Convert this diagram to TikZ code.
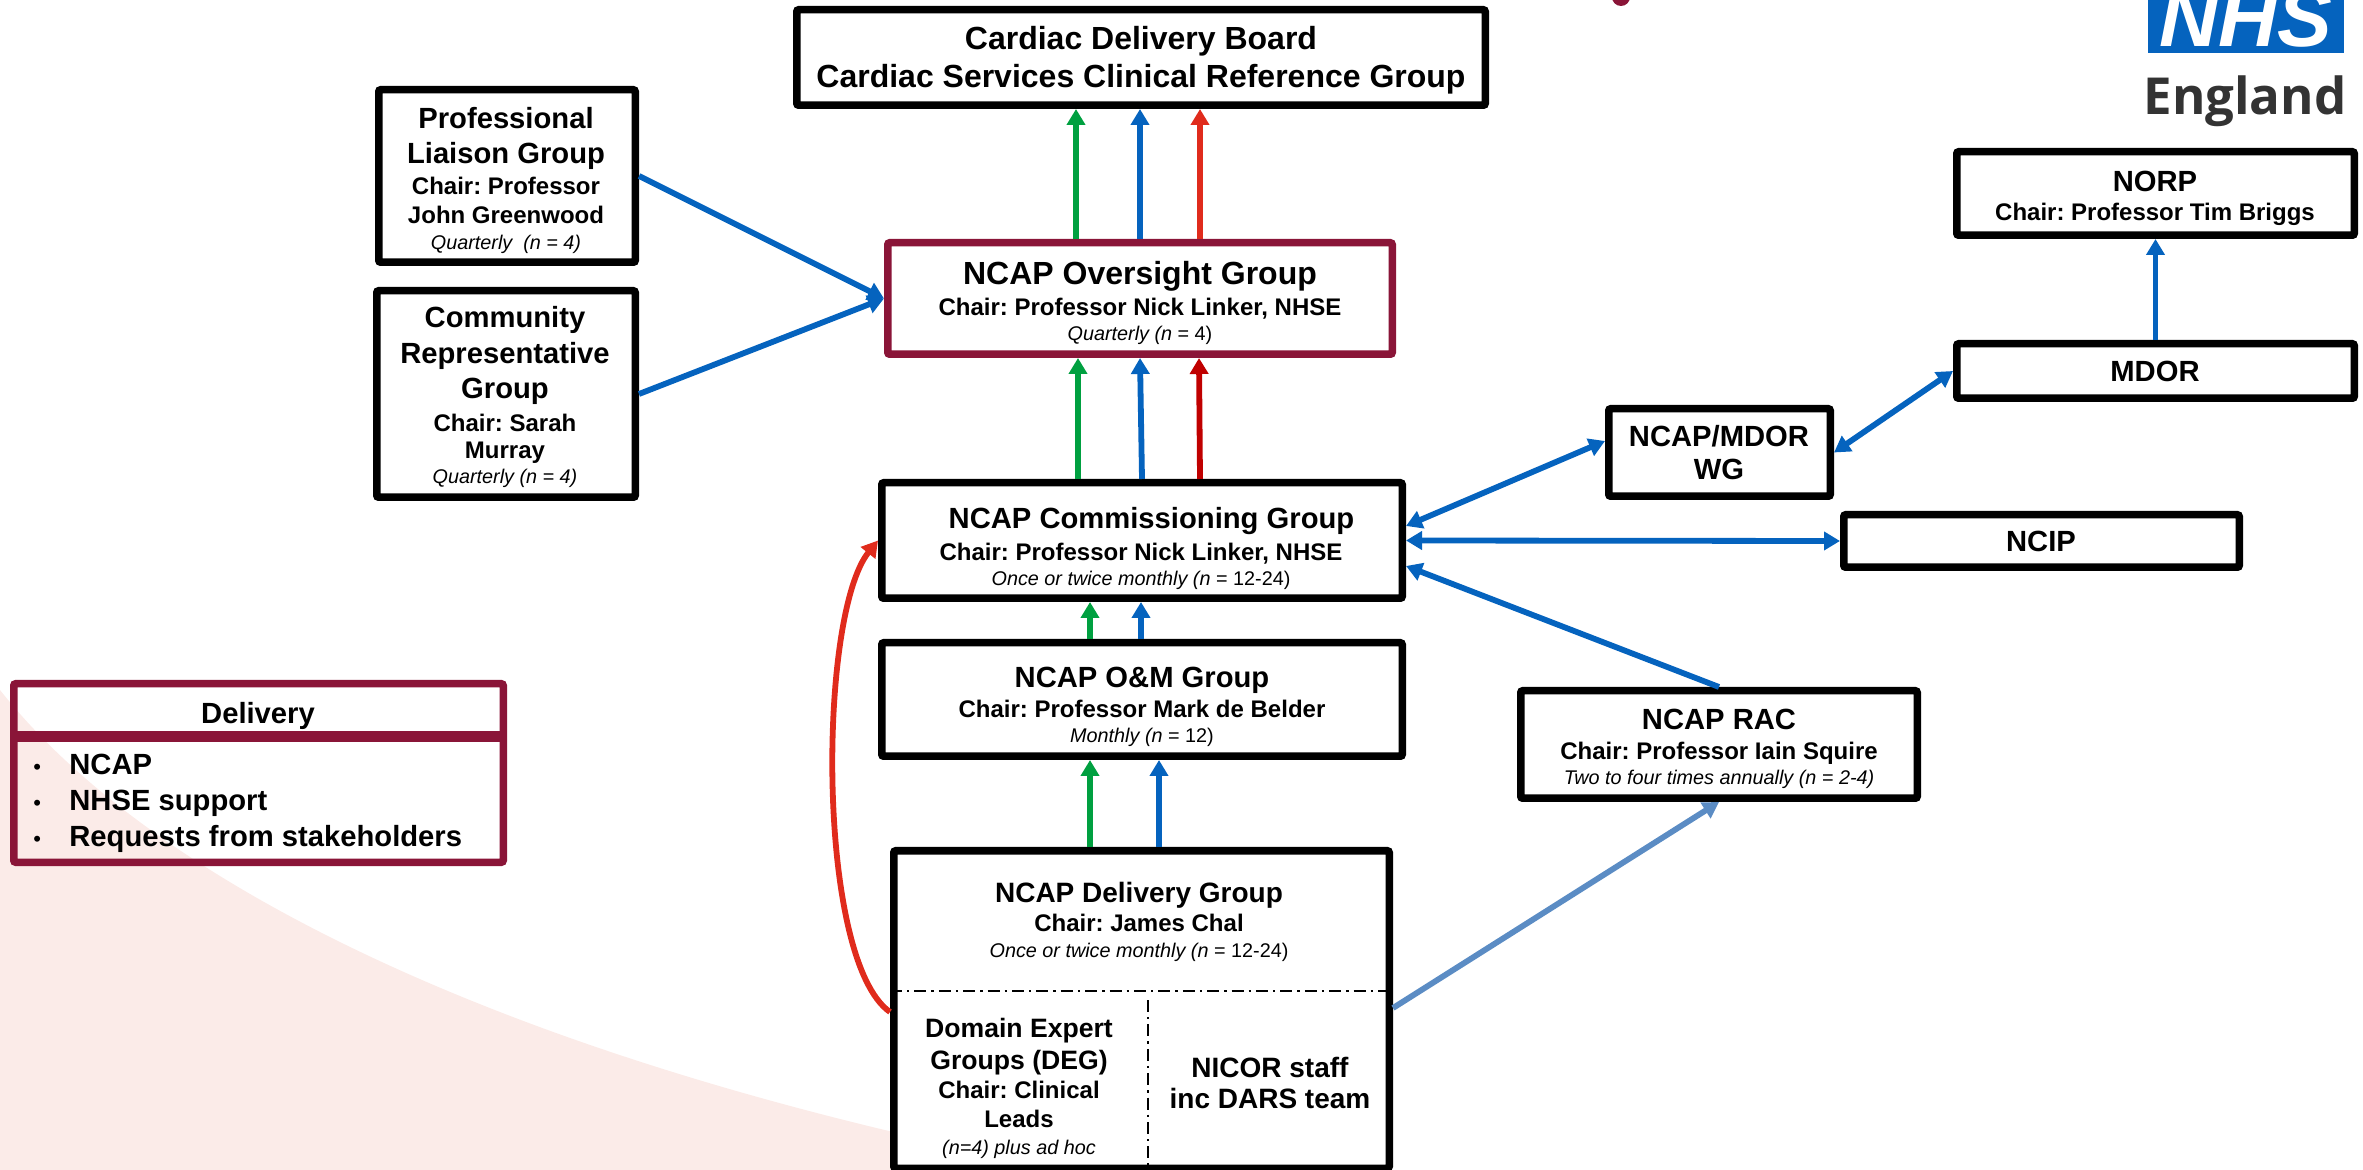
\documentclass[tikz,border=0pt]{standalone}
\usepackage{fontspec}
\setmainfont{Liberation Sans}
\newfontfamily\logofont{Open Sans}
\usetikzlibrary{arrows.meta,calc}
\frenchspacing
\definecolor{nhsblue}{HTML}{0563BE}
\definecolor{lineblue}{HTML}{5B8CC4}
\definecolor{nhsgreen}{HTML}{00A040}
\definecolor{nhsred}{HTML}{E02B1C}
\definecolor{darkred}{HTML}{C00000}
\definecolor{maroon}{HTML}{8A1538}
\definecolor{blush}{HTML}{FBEBE8}
\newcommand\tA[1]{{\fontsize{14.6}{16}\selectfont\bfseries #1}}
\newcommand\tD[1]{{\fontsize{13.3}{15}\selectfont\bfseries #1}}
\newcommand\tE[1]{{\fontsize{14}{16}\selectfont\bfseries #1}}
\newcommand\tH[1]{{\fontsize{16}{18}\selectfont\bfseries #1}}
\newcommand\tB[1]{{\fontsize{12}{14}\selectfont\bfseries #1}}
\newcommand\tC[1]{{\fontsize{9.9}{12}\selectfont #1}}
\newcommand\legbul{\makebox[18pt][l]{\fontsize{11}{14}\selectfont•}}
\newcommand\bx[6]{%
  \pgfmathsetmacro\cxx{(#2+#4)/2}\pgfmathsetmacro\cyy{(#3+#5)/2}%
  \pgfmathsetmacro\ww{(#4-#2-7.5)*0.5}\pgfmathsetmacro\hh{(#5-#3-7.5)*0.5}%
  \node[#6,minimum width=\ww pt,minimum height=\hh pt] (#1) at (\cxx,\cyy) {};}
\tikzset{
  x=0.5pt,y=-0.5pt,
  blackbox/.style={draw=black,line width=3.75pt,inner sep=0pt,rounded corners=1pt},
  whitebox/.style={blackbox,fill=white},
  oversightbox/.style={whitebox,draw=maroon},
  legendbox/.style={blackbox,draw=maroon},
  txt/.style={align=center,inner sep=0pt,font=\fontsize{12}{14}\selectfont},
  arr/.style={line width=2.9pt,-{Triangle[width=9pt,length=8pt]}},
  biarr/.style={line width=2.9pt,{Triangle[width=9pt,length=8pt]}-{Triangle[width=9pt,length=8pt]}},
  divider/.style={line width=1.3pt,dash pattern=on 6pt off 2.5pt on 1.2pt off 2.5pt},
}
\begin{document}
\begin{tikzpicture}
\useasboundingbox (0,0) rectangle (2363,1170);
\clip (0,0) rectangle (2363,1170);
% background sweep
\fill[blush] (0,690) .. controls (150,880) and (500,1060) .. (1070,1170) -- (0,1170) -- cycle;
\fill[maroon] (1621,-3) circle (9);
% logo
\fill[nhsblue] (2148,-20) rectangle (2344,53);
\node[anchor=base,inner sep=0pt,text=white,font=\fontsize{41}{41}\selectfont\bfseries\itshape] (nhs) at (2246,47) {NHS};
\node[anchor=base,inner sep=0pt,text=black!80,font=\logofont\fontsize{25.5}{26}\selectfont\bfseries] (eng) at (2245,115) {England};
% boxes
\bx{cdb}{793}{6}{1489}{109}{whitebox}
\bx{plg}{375}{86}{639}{266}{whitebox}
\bx{crg}{373}{287}{639}{501}{whitebox}
\bx{ovg}{884}{239}{1396}{358}{oversightbox}
\bx{cmg}{878}{479}{1406}{602}{whitebox}
\bx{omg}{878}{639}{1406}{760}{whitebox}
\bx{dlg}{890}{847}{1393}{1172}{whitebox}
\bx{leg}{10}{680}{507}{866}{legendbox}
\bx{norp}{1953}{148}{2358}{239}{whitebox}
\bx{mdor}{1953}{340}{2358}{402}{whitebox}
\bx{wg}{1605}{405}{1834}{500}{whitebox}
\bx{ncip}{1840}{511}{2243}{571}{whitebox}
\bx{rac}{1517}{687}{1921}{802}{whitebox}
% texts
\node[txt] (cdbt) at (1141,60) {\tH{Cardiac Delivery Board}\\[3pt]\tH{Cardiac Services Clinical Reference Group}};
\node[txt] (plgt) at (506,180) {\tA{Professional}\\[3.5pt]\tA{Liaison Group}\\[1.5pt]\tB{Chair: Professor}\\[.5pt]\tB{John Greenwood}\\[-1pt]\tC{\itshape Quarterly\ \ (n = 4)}};
\node[txt] (crgt) at (505,397) {\tA{Community}\\[4pt]\tA{Representative}\\[3.5pt]\tA{Group}\\[2.5pt]\tB{Chair: Sarah}\\[-.5pt]\tB{Murray}\\[-1.5pt]\tC{\itshape Quarterly (n = 4)}};
\node[txt] (ovgt) at (1140,303) {\tH{NCAP Oversight Group}\\[1.5pt]\tB{Chair: Professor Nick Linker, NHSE}\\[-1.75pt]\tC{\textit{Quarterly (n} = 4)}};
\node[txt] (cmgt) at (1141,548.5) {\hspace*{10.5pt}\tA{NCAP Commissioning Group}\\[1.75pt]\tB{Chair: Professor Nick Linker, NHSE}\\[-1.25pt]\tC{\textit{Once or twice monthly (n} = 12-24)}};
\node[txt] (omgt) at (1142,707) {\tA{NCAP O\&M Group}\\[1pt]\tB{Chair: Professor Mark de Belder}\\[-1.25pt]\tC{\textit{Monthly (n} = 12)}};
\node[txt] (dlgt) at (1139,922) {\tE{NCAP Delivery Group}\\[.5pt]\tB{Chair: James Chal}\\[-1.25pt]\tC{\textit{Once or twice monthly (n} = 12-24)}};
\node[txt] (deg) at (1019,1088) {\tD{Domain Expert}\\[2pt]\tD{Groups (DEG)}\\[.5pt]\tB{Chair: Clinical}\\[.5pt]\tB{Leads}\\[-.5pt]\tC{\itshape (n=4) plus ad hoc}};
\node[txt] (nicor) at (1270,1083) {\tE{NICOR staff}\\[1.5pt]\tE{inc DARS team}};
\node[txt] (legt) at (258,716) {\tA{Delivery}};
\node[txt,align=left,anchor=west] (legl) at (33,803) {\legbul\tA{NCAP}\\[4pt]\legbul\tA{NHSE support}\\[4pt]\legbul\tA{Requests from stakeholders}};
\node[txt] (norpt) at (2155,198) {\tA{NORP}\\[.5pt]\tB{Chair: Professor Tim Briggs}};
\node[txt] (mdort) at (2155,371) {\tA{MDOR}};
\node[txt] (wgt) at (1719,453) {\tA{NCAP/MDOR}\\[2.5pt]\tA{WG}};
\node[txt] (ncipt) at (2041,541) {\tA{NCIP}};
\node[txt] (ract) at (1719,749) {\tA{NCAP RAC}\\[1pt]\tB{Chair: Professor Iain Squire}\\[-1.25pt]\tC{\itshape Two to four times annually (n = 2-4)}};
% inner dividers
\draw[maroon,line width=5.5pt] (leg.west |- 0,737) -- (leg.east |- 0,737);
\draw[divider] (dlg.west |- 0,991) -- (dlg.east |- 0,991);
\draw[divider] (dlg.north -| 1148,0) ++(0,153) -- (dlg.south -| 1148,0);
% connectors
\draw[arr,nhsgreen] (ovg.north -| 1076,0) -- (cdb.south -| 1076,0);
\draw[arr,nhsblue] (ovg.north -| 1140,0) -- (cdb.south -| 1140,0);
\draw[arr,nhsred] (ovg.north -| 1200,0) -- (cdb.south -| 1200,0);
\draw[arr,nhsgreen] (cmg.north -| 1078,0) -- (ovg.south -| 1078,0);
\draw[arr,nhsblue] (cmg.north -| 1142,0) -- (ovg.south -| 1140,0);
\draw[arr,darkred] (cmg.north -| 1200,0) -- (ovg.south -| 1199,0);
\draw[arr,nhsgreen] (omg.north -| 1090,0) -- (cmg.south -| 1090,0);
\draw[arr,nhsblue] (omg.north -| 1141,0) -- (cmg.south -| 1141,0);
\draw[arr,nhsgreen] (dlg.north -| 1090,0) -- (omg.south -| 1090,0);
\draw[arr,nhsblue] (dlg.north -| 1159,0) -- (omg.south -| 1159,0);
\draw[arr,nhsblue] (plg.east) -- (ovg.west);
\draw[arr,nhsblue] (crg.east) -- (ovg.west);
\draw[biarr,nhsblue] (cmg.east |- 0,526) -- (wg.west |- 0,441);
\draw[biarr,nhsblue] (cmg.east) -- (ncip.west);
\draw[arr,nhsblue] (rac.north) -- (cmg.east |- 0,566);
\draw[biarr,nhsblue] (wg.east) -- (mdor.west);
\draw[arr,nhsblue] (mdor.north) -- (norp.south);
\draw[arr,lineblue] (dlg.east |- 0,1008) -- (rac.south);
\draw[arr,nhsred] (dlg.west |- 0,1012) .. controls (816,960) and (818,615) .. (cmg.west);
\end{tikzpicture}
\end{document}
